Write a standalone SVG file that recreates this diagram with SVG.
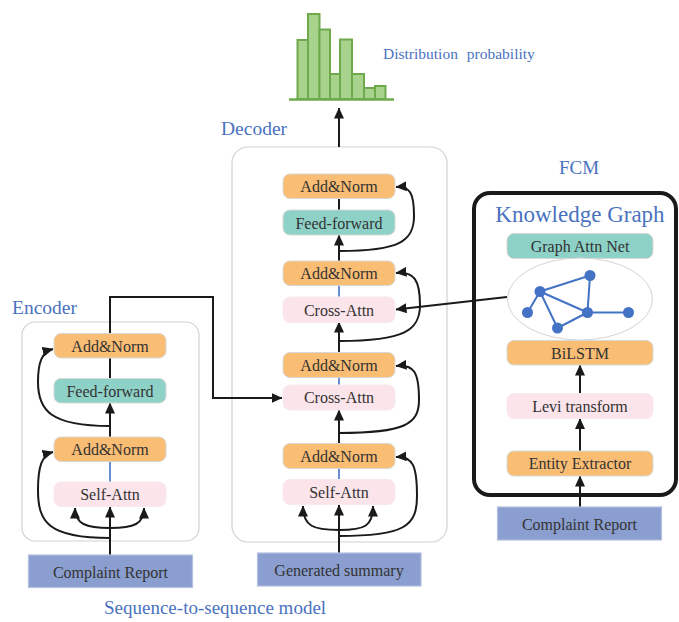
<svg xmlns="http://www.w3.org/2000/svg" width="679" height="622" viewBox="0 0 679 622" font-family="'Liberation Serif', 'Times New Roman', Times, 'DejaVu Serif', serif">
  <defs>
    <marker id="arrow" viewBox="0 0 11 10" markerWidth="11" markerHeight="10" refX="10.5" refY="5" orient="auto" markerUnits="userSpaceOnUse">
      <path d="M0,0 L11,5 L0,10 z" fill="#1a1a1a"/>
    </marker>
    <style>
      .lbl { fill: #333333; font-size: 16px; text-anchor: middle; font-family: 'Liberation Serif', 'Times New Roman', Times, 'DejaVu Serif', serif; }
      .title { fill: #4a72c0; font-family: 'Liberation Serif', 'Times New Roman', Times, 'DejaVu Serif', serif; }
      .frame { fill: #ffffff; stroke: #d2d2d2; stroke-width: 1.2; }
      .norm { fill: #fabd74; stroke: #d8d8d8; stroke-width: 1; }
      .ff { fill: #8dd1c7; stroke: #d8d8d8; stroke-width: 1; }
      .attn { fill: #fce4eb; stroke: #f7eaee; stroke-width: 1; }
      .input { fill: #8a9ecf; stroke: #b3bfdf; stroke-width: 1.2; }
      .wire { fill: none; stroke: #1a1a1a; stroke-width: 2; }
      .arr { marker-end: url(#arrow); }
      .link { stroke: #4472c4; stroke-width: 1.6; }
      .bar { fill: #a7d38c; stroke: #6eaa4c; stroke-width: 2; }
      .gedge { stroke: #4472c4; stroke-width: 2; }
      .gnode { fill: #4472c4; }
    </style>
  </defs>

  <rect width="679" height="622" fill="#ffffff"/>

  <!-- output distribution histogram -->
  <g id="distribution">
    <rect class="bar" x="297.5" y="40" width="10.5" height="59"/>
    <rect class="bar" x="308" y="14" width="11.5" height="85"/>
    <rect class="bar" x="319.5" y="29.5" width="10.5" height="69.5"/>
    <rect class="bar" x="330" y="74" width="10" height="25"/>
    <rect class="bar" x="340" y="39.5" width="12" height="59.5"/>
    <rect class="bar" x="352" y="74" width="12" height="25"/>
    <rect class="bar" x="364" y="88" width="11" height="11"/>
    <rect class="bar" x="375" y="86" width="10.5" height="13"/>
    <line x1="289" y1="99.5" x2="394" y2="99.5" stroke="#6eaa4c" stroke-width="2.5"/>
    <text class="title" x="383" y="59" font-size="15.5" word-spacing="5">Distribution probability</text>
  </g>

  <!-- section titles -->
  <text class="title" x="221" y="135" font-size="19.5">Decoder</text>
  <text class="title" x="12" y="314" font-size="19.5">Encoder</text>
  <text class="title" x="579" y="174" font-size="19" text-anchor="middle">FCM</text>
  <text class="title" x="104" y="614" font-size="19">Sequence-to-sequence model</text>

  <!-- frames -->
  <rect id="decoder-frame" class="frame" x="232" y="147" width="215" height="395" rx="16"/>
  <rect id="encoder-frame" class="frame" x="22" y="322" width="177" height="219" rx="13"/>
  <rect id="kg-frame" x="474" y="193" width="202" height="302" rx="16" fill="none" stroke="#1a1a1a" stroke-width="4"/>
  <text class="title" x="580" y="222" font-size="23" text-anchor="middle">Knowledge Graph</text>

  <!-- connectors -->
  <g id="connectors">
    <!-- encoder -->
    <line class="wire arr" x1="110" y1="555" x2="110" y2="507"/>
    <path class="wire arr" d="M110 528 C 86 528 75 524 75 508"/>
    <path class="wire arr" d="M110 528 C 134 528 144 524 144 508"/>
    <path class="wire arr" d="M110 538 C 48 538 38 522 38 490 C 38 466 42 455 53 452"/>
    <line class="link" x1="110" y1="462" x2="110" y2="482"/>
    <line class="wire arr" x1="110" y1="437" x2="110" y2="403"/>
    <path class="wire arr" d="M110 426 C 50 426 38 410 38 382 C 38 362 42 352 53 349"/>
    <line class="wire" x1="110" y1="378" x2="110" y2="358"/>
    <polyline class="wire arr" points="110,333 110,297 213,297 213,398 282,398"/>

    <!-- decoder -->
    <line class="wire arr" x1="339" y1="553" x2="339" y2="505"/>
    <path class="wire arr" d="M339 530 C 313 530 303 526 303 506"/>
    <path class="wire arr" d="M339 530 C 365 530 373 526 373 506"/>
    <path class="wire arr" d="M339 536 C 405 536 417 526 417 496 C 417 466 413 456 396 457"/>
    <line class="link" x1="339" y1="468" x2="339" y2="479"/>
    <line class="wire arr" x1="339" y1="443" x2="339" y2="410"/>
    <path class="wire arr" d="M339 433 C 405 433 419 424 419 400 C 419 372 414 364 396 366"/>
    <line class="link" x1="339" y1="377" x2="339" y2="385"/>
    <line class="wire arr" x1="339" y1="352" x2="339" y2="322"/>
    <path class="wire arr" d="M339 341 C 405 341 420 330 420 305 C 420 280 414 271 396 273"/>
    <line class="link" x1="339" y1="285" x2="339" y2="297"/>
    <line class="wire arr" x1="339" y1="261" x2="339" y2="235"/>
    <path class="wire arr" d="M339 251 C 400 251 414 241 414 216 C 414 193 410 186 396 187"/>
    <line class="wire" x1="339" y1="210" x2="339" y2="198"/>
    <line class="wire arr" x1="339" y1="147" x2="339" y2="108"/>

    <!-- knowledge graph to decoder -->
    <line class="wire arr" x1="507" y1="297" x2="396" y2="309.5"/>

    <!-- FCM -->
    <line class="wire arr" x1="580" y1="507" x2="580" y2="476"/>
    <line class="wire arr" x1="580" y1="451" x2="580" y2="418.5"/>
    <line class="wire arr" x1="580" y1="393" x2="580" y2="365"/>
  </g>

  <!-- encoder nodes -->
  <g id="enc-addnorm-2"><rect class="norm" x="54" y="333.5" width="112" height="24.5" rx="7"/><text class="lbl" x="110" y="351.5">Add&amp;Norm</text></g>
  <g id="enc-feedforward"><rect class="ff" x="54" y="378.5" width="112" height="24.5" rx="7"/><text class="lbl" x="110" y="396.5">Feed-forward</text></g>
  <g id="enc-addnorm-1"><rect class="norm" x="54" y="437" width="112" height="24.5" rx="7"/><text class="lbl" x="110" y="455">Add&amp;Norm</text></g>
  <g id="enc-selfattn"><rect class="attn" x="54" y="482" width="112" height="24.5" rx="7"/><text class="lbl" x="110" y="500">Self-Attn</text></g>
  <g id="enc-input"><rect class="input" x="28.5" y="555" width="164" height="32.5"/><text class="lbl" x="110.5" y="577.5">Complaint Report</text></g>

  <!-- decoder nodes -->
  <g id="dec-addnorm-3"><rect class="norm" x="283" y="174" width="112" height="24.5" rx="7"/><text class="lbl" x="339" y="192">Add&amp;Norm</text></g>
  <g id="dec-feedforward"><rect class="ff" x="283" y="210" width="112" height="25" rx="7"/><text class="lbl" x="339" y="228.5">Feed-forward</text></g>
  <g id="dec-addnorm-2"><rect class="norm" x="283" y="261" width="112" height="24.5" rx="7"/><text class="lbl" x="339" y="279">Add&amp;Norm</text></g>
  <g id="dec-crossattn-kg"><rect class="attn" x="283" y="297" width="112" height="25.5" rx="7"/><text class="lbl" x="339" y="315.5">Cross-Attn</text></g>
  <g id="dec-addnorm-1"><rect class="norm" x="283" y="352.5" width="112" height="25" rx="7"/><text class="lbl" x="339" y="370.5">Add&amp;Norm</text></g>
  <g id="dec-crossattn-enc"><rect class="attn" x="283" y="385" width="112" height="25" rx="7"/><text class="lbl" x="339" y="403">Cross-Attn</text></g>
  <g id="dec-addnorm-0"><rect class="norm" x="283" y="443.5" width="112" height="25" rx="7"/><text class="lbl" x="339" y="461.5">Add&amp;Norm</text></g>
  <g id="dec-selfattn"><rect class="attn" x="283" y="479.5" width="112" height="25" rx="7"/><text class="lbl" x="339" y="497.5">Self-Attn</text></g>
  <g id="dec-input"><rect class="input" x="257.5" y="553" width="163.5" height="33"/><text class="lbl" x="339" y="576">Generated summary</text></g>

  <!-- FCM nodes -->
  <g id="kg-gat"><rect class="ff" x="507" y="233.5" width="146" height="25" rx="7"/><text class="lbl" x="580" y="251.5">Graph Attn Net</text></g>
  <g id="kg-graph">
    <ellipse cx="580" cy="299" rx="72.5" ry="41" fill="#ffffff" stroke="#d4d4d4" stroke-width="1"/>
    <line class="gedge" x1="540" y1="291.5" x2="590" y2="275.5"/>
    <line class="gedge" x1="540" y1="291.5" x2="527.5" y2="312.5"/>
    <line class="gedge" x1="540" y1="291.5" x2="557.5" y2="328"/>
    <line class="gedge" x1="540" y1="291.5" x2="587.5" y2="312.5"/>
    <line class="gedge" x1="590" y1="275.5" x2="587.5" y2="312.5"/>
    <line class="gedge" x1="557.5" y1="328" x2="587.5" y2="312.5"/>
    <line class="gedge" x1="587.5" y1="312.5" x2="628.5" y2="312.5"/>
    <circle class="gnode" cx="540" cy="291.5" r="5.5"/>
    <circle class="gnode" cx="590" cy="275.5" r="5.5"/>
    <circle class="gnode" cx="527.5" cy="312.5" r="5.5"/>
    <circle class="gnode" cx="557.5" cy="328" r="5.5"/>
    <circle class="gnode" cx="587.5" cy="312.5" r="5.5"/>
    <circle class="gnode" cx="628.5" cy="312.5" r="5.5"/>
  </g>
  <g id="kg-bilstm"><rect class="norm" x="507" y="340.5" width="146" height="24.5" rx="7"/><text class="lbl" x="580" y="358.5">BiLSTM</text></g>
  <g id="kg-levi"><rect class="attn" x="507" y="393.5" width="146" height="25" rx="7"/><text class="lbl" x="580" y="411.5">Levi transform</text></g>
  <g id="kg-extractor"><rect class="norm" x="507" y="451" width="146" height="25" rx="7"/><text class="lbl" x="580" y="469">Entity Extractor</text></g>
  <g id="kg-input"><rect class="input" x="497.5" y="507" width="164" height="33"/><text class="lbl" x="579.5" y="530">Complaint Report</text></g>
</svg>
